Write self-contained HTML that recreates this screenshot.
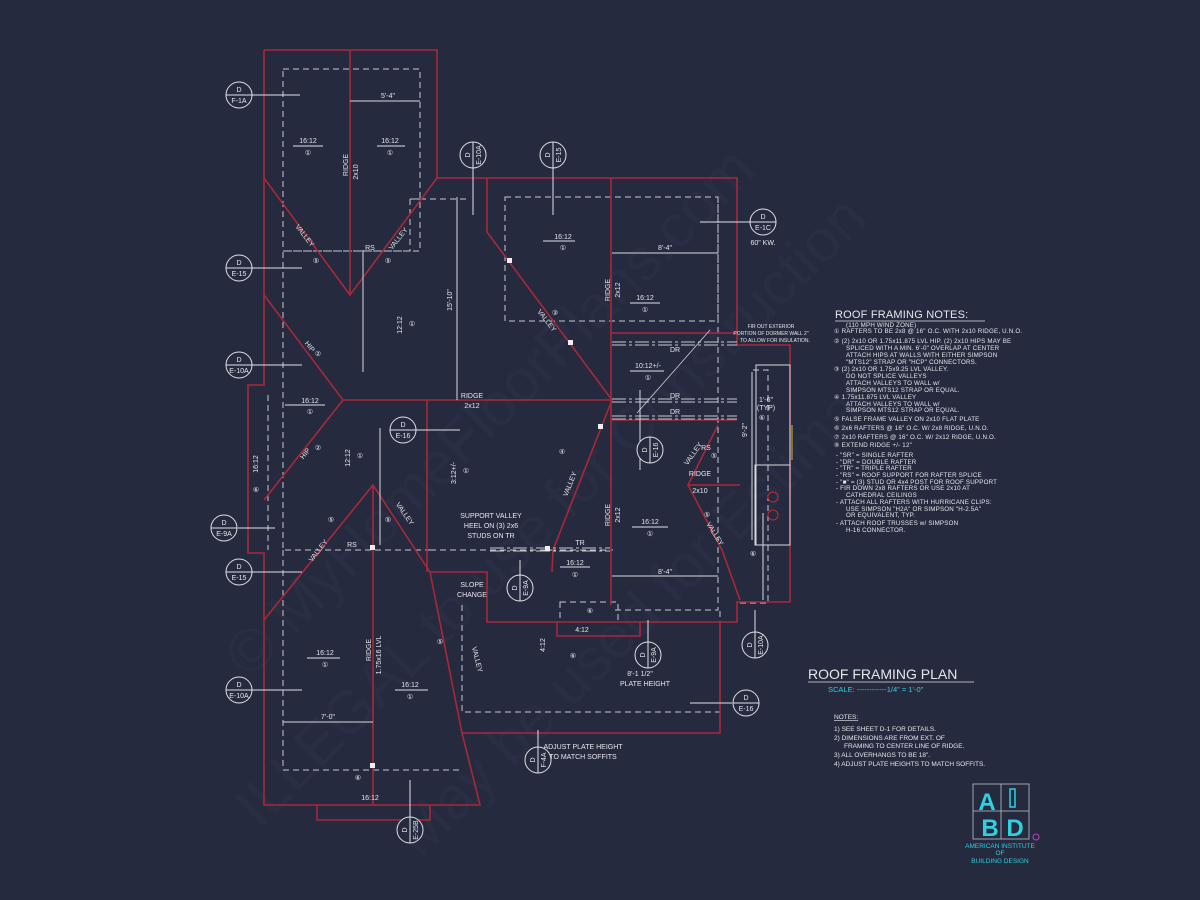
<!DOCTYPE html>
<html><head><meta charset="utf-8"><style>
html,body{margin:0;padding:0;background:#252a3e;}
svg{display:block;}
text{font-family:"Liberation Sans",sans-serif;fill:#e6e6ea;}
</style></head><body>
<svg width="1200" height="900" viewBox="0 0 1200 900" xmlns="http://www.w3.org/2000/svg">
<rect width="1200" height="900" fill="#252a3e"/>
<!-- watermark -->
<g opacity="0.35" font-family="Liberation Serif,serif">
<text x="250" y="680" font-size="60" transform="rotate(-45 250 680)" style="fill:#343850">© MyHomeFloorPlans.com</text>
<text x="260" y="830" font-size="60" transform="rotate(-45 260 830)" style="fill:#343850">ILLEGAL to use for Construction</text>
<text x="420" y="860" font-size="60" transform="rotate(-45 420 860)" style="fill:#343850">May be used for Estimating</text>
</g>
<!-- dashed walls -->
<g stroke="#c8c8d0" stroke-width="1" fill="none" stroke-dasharray="6,4">
<rect x="283" y="69" width="137" height="182"/>
<path d="M420 199 L410 199 L410 251 L283 251 L283 550 L430 550"/>
<path d="M410 199 L467 199"/>
<rect x="505" y="197" width="213" height="124"/>
<path d="M718 197 L718 610 L612 610"/>
<path d="M268 395 L268 550"/>
<path d="M430 550 L613 550"/>
<path d="M283 550 L283 770 L460 770"/>
<path d="M462 605 L462 712 L720 712 L720 610"/>
<path d="M753 370 L768 370 L768 603 L740 603"/>
<rect x="560" y="602" width="58" height="20"/>
</g>
<!-- red outline -->
<g stroke="#a8283b" stroke-width="1.6" fill="none">
<path d="M264 50 L437 50 L437 178 L737 178 L737 345 L790 345 L790 602 L737 602 L737 622 L487 622 L487 572 L430 572"/>
<path d="M264 50 L264 385 L248 385 L248 553 L264 553 L264 805 L480 805 L462 733 L720 733 L720 622"/>
<path d="M264 178 L350 295 L437 178"/>
<path d="M350 50 L350 295"/>
<path d="M264 295 L343 400 L612 400"/>
<path d="M343 400 L264 500"/>
<path d="M487 178 L487 232 L612 400"/>
<path d="M611 178 L611 605"/>
<path d="M612 400 L553 550 L552 572"/>
<path d="M427 400 L427 572"/>
<path d="M264 620 L373 485 L430 572 L462 733"/>
<path d="M373 485 L373 805"/>
<path d="M611 420 L737 420"/>
<path d="M611 333 L737 333"/>
<path d="M718 425 L688 485 L740 485"/>
<path d="M688 485 L722 550 L740 600"/>
<path d="M317 805 L317 820 L430 820 L430 805"/>
<path d="M557 622 L557 636 L640 636 L640 622"/>
</g>
<!-- DR double lines -->
<g stroke="#c8c8d0" stroke-width="1" stroke-dasharray="14,3,3,3">
<line x1="612" y1="342" x2="737" y2="342"/><line x1="612" y1="345" x2="737" y2="345"/>
<line x1="612" y1="399" x2="737" y2="399"/><line x1="612" y1="402" x2="737" y2="402"/>
<line x1="612" y1="416" x2="737" y2="416"/><line x1="612" y1="419" x2="737" y2="419"/>
<line x1="490" y1="548" x2="610" y2="548"/><line x1="490" y1="551" x2="610" y2="551"/>
</g>
<!-- white framing lines -->
<g stroke="#d8d8de" stroke-width="1" fill="none">
<line x1="457" y1="197" x2="457" y2="400"/>
<line x1="350" y1="101" x2="420" y2="101"/>
<line x1="363" y1="250" x2="363" y2="372"/>
<line x1="612" y1="253" x2="718" y2="253"/>
<line x1="612" y1="576" x2="718" y2="576"/>
<line x1="283" y1="722" x2="373" y2="722"/>
<line x1="380" y1="428" x2="380" y2="545"/>
<line x1="752" y1="372" x2="752" y2="540"/>
<line x1="763" y1="513" x2="763" y2="600"/>
<line x1="640" y1="390" x2="640" y2="470"/>
<path d="M756 365 H790 V545 H756 Z"/>
<rect x="755" y="465" width="35" height="80"/>
</g>
<circle cx="773" cy="497" r="5" stroke="#c0283b" fill="none"/>
<circle cx="773" cy="515" r="5" stroke="#c0283b" fill="none"/>
<line x1="792" y1="425" x2="792" y2="460" stroke="#c8c040"/>
<!-- support posts -->
<g fill="#f0f0f0">
<rect x="507" y="258" width="5" height="5"/><rect x="568" y="340" width="5" height="5"/>
<rect x="598" y="424" width="5" height="5"/><rect x="370" y="545" width="5" height="5"/>
<rect x="545" y="546" width="5" height="5"/><rect x="370" y="763" width="5" height="5"/>
</g>
<!-- callout circles -->
<g stroke="#e0e0e6" fill="none" stroke-width="1">
<line x1="252" y1="95" x2="300" y2="95"/><line x1="252" y1="268" x2="302" y2="268"/>
<line x1="252" y1="365" x2="302" y2="365"/><line x1="238" y1="528" x2="275" y2="528"/>
<line x1="252" y1="572" x2="302" y2="572"/><line x1="252" y1="690" x2="302" y2="690"/>
<line x1="473" y1="168" x2="473" y2="215"/><line x1="553" y1="168" x2="553" y2="215"/>
<line x1="750" y1="222" x2="700" y2="222"/><line x1="416" y1="430" x2="460" y2="430"/>
<line x1="520" y1="575" x2="520" y2="560"/><line x1="648" y1="642" x2="648" y2="620"/>
<line x1="755" y1="632" x2="755" y2="610"/><line x1="732" y1="703" x2="690" y2="703"/>
<line x1="538" y1="747" x2="538" y2="730"/><line x1="410" y1="817" x2="410" y2="780"/>
<line x1="637" y1="413" x2="710" y2="330" stroke-width="0.7"/>
</g>
<g font-size="7" text-anchor="middle">
<g transform="translate(239,95)"><circle r="13" stroke="#e0e0e6" fill="#252a3e"/><line x1="-13" x2="13" stroke="#e0e0e6"/><text y="-3">D</text><text y="8">F-1A</text></g>
<g transform="translate(239,268)"><circle r="13" stroke="#e0e0e6" fill="#252a3e"/><line x1="-13" x2="13" stroke="#e0e0e6"/><text y="-3">D</text><text y="8">E-15</text></g>
<g transform="translate(239,365)"><circle r="13" stroke="#e0e0e6" fill="#252a3e"/><line x1="-13" x2="13" stroke="#e0e0e6"/><text y="-3">D</text><text y="8">E-10A</text></g>
<g transform="translate(224,528)"><circle r="13" stroke="#e0e0e6" fill="#252a3e"/><line x1="-13" x2="13" stroke="#e0e0e6"/><text y="-3">D</text><text y="8">E-9A</text></g>
<g transform="translate(239,572)"><circle r="13" stroke="#e0e0e6" fill="#252a3e"/><line x1="-13" x2="13" stroke="#e0e0e6"/><text y="-3">D</text><text y="8">E-15</text></g>
<g transform="translate(239,690)"><circle r="13" stroke="#e0e0e6" fill="#252a3e"/><line x1="-13" x2="13" stroke="#e0e0e6"/><text y="-3">D</text><text y="8">E-10A</text></g>
<g transform="translate(763,222)"><circle r="13" stroke="#e0e0e6" fill="#252a3e"/><line x1="-13" x2="13" stroke="#e0e0e6"/><text y="-3">D</text><text y="8">E-1C</text><text y="23">60" KW.</text></g>
<g transform="translate(403,430)"><circle r="13" stroke="#e0e0e6" fill="#252a3e"/><line x1="-13" x2="13" stroke="#e0e0e6"/><text y="-3">D</text><text y="8">E-16</text></g>
<g transform="translate(746,703)"><circle r="13" stroke="#e0e0e6" fill="#252a3e"/><line x1="-13" x2="13" stroke="#e0e0e6"/><text y="-3">D</text><text y="8">E-16</text></g>
<g transform="translate(473,155) rotate(-90)"><circle r="13" stroke="#e0e0e6" fill="#252a3e"/><line x1="-13" x2="13" stroke="#e0e0e6"/><text y="-3">D</text><text y="8">E-10A</text></g>
<g transform="translate(553,155) rotate(-90)"><circle r="13" stroke="#e0e0e6" fill="#252a3e"/><line x1="-13" x2="13" stroke="#e0e0e6"/><text y="-3">D</text><text y="8">E-15</text></g>
<g transform="translate(650,450) rotate(-90)"><circle r="13" stroke="#e0e0e6" fill="#252a3e"/><line x1="-13" x2="13" stroke="#e0e0e6"/><text y="-3">D</text><text y="8">E-16</text></g>
<g transform="translate(520,588) rotate(-90)"><circle r="13" stroke="#e0e0e6" fill="#252a3e"/><line x1="-13" x2="13" stroke="#e0e0e6"/><text y="-3">D</text><text y="8">E-9A</text></g>
<g transform="translate(648,655) rotate(-90)"><circle r="13" stroke="#e0e0e6" fill="#252a3e"/><line x1="-13" x2="13" stroke="#e0e0e6"/><text y="-3">D</text><text y="8">E-9A</text></g>
<g transform="translate(755,645) rotate(-90)"><circle r="13" stroke="#e0e0e6" fill="#252a3e"/><line x1="-13" x2="13" stroke="#e0e0e6"/><text y="-3">D</text><text y="8">E-10A</text></g>
<g transform="translate(538,760) rotate(-90)"><circle r="13" stroke="#e0e0e6" fill="#252a3e"/><line x1="-13" x2="13" stroke="#e0e0e6"/><text y="-3">D</text><text y="8">F-4A</text></g>
<g transform="translate(410,830) rotate(-90)"><circle r="13" stroke="#e0e0e6" fill="#252a3e"/><line x1="-13" x2="13" stroke="#e0e0e6"/><text y="-3">D</text><text y="8">E-25B</text></g>
</g>
<!-- plan labels -->
<g font-size="7" text-anchor="middle">
<text x="388" y="98">5'-4"</text>
<text x="308" y="143">16:12</text><text x="308" y="155">①</text>
<text x="390" y="143">16:12</text><text x="390" y="155">①</text>
<text x="563" y="239">16:12</text><text x="563" y="250">①</text>
<text x="645" y="300">16:12</text><text x="645" y="312">①</text>
<text x="665" y="250">8'-4"</text>
<text x="370" y="250">RS</text>
<text x="316" y="263">⑤</text><text x="388" y="263">⑤</text>
<text x="412" y="326">①</text><text x="318" y="356">②</text>
<text x="555" y="315">③</text>
<text x="675" y="352">DR</text><text x="675" y="398">DR</text><text x="675" y="414">DR</text>
<text x="648" y="368">10:12+/-</text><text x="648" y="380">①</text>
<text x="472" y="398">RIDGE</text><text x="472" y="408">2x12</text>
<text x="310" y="403">16:12</text><text x="310" y="414">①</text>
<text x="318" y="450">②</text><text x="360" y="458">①</text>
<text x="466" y="473">①</text>
<text x="562" y="454">④</text>
<text x="714" y="458">⑤</text><text x="700" y="476">RIDGE</text><text x="700" y="493">2x10</text>
<text x="707" y="517">⑤</text>
<text x="650" y="524">16:12</text><text x="650" y="536">①</text>
<text x="491" y="518">SUPPORT VALLEY</text><text x="491" y="528">HEEL ON (3) 2x6</text><text x="491" y="538">STUDS ON TR</text>
<text x="580" y="545">TR</text>
<text x="575" y="565">16:12</text><text x="575" y="577">①</text>
<text x="665" y="574">8'-4"</text>
<text x="331" y="522">⑤</text><text x="388" y="522">⑤</text>
<text x="352" y="547">RS</text>
<text x="256" y="492">⑥</text>
<text x="472" y="587">SLOPE</text><text x="472" y="597">CHANGE</text>
<text x="440" y="644">⑤</text>
<text x="590" y="613">⑥</text><text x="582" y="632">4:12</text>
<text x="640" y="676">8'-1 1/2"</text><text x="645" y="686">PLATE HEIGHT</text>
<text x="583" y="749">ADJUST PLATE HEIGHT</text><text x="583" y="759">TO MATCH SOFFITS</text>
<text x="573" y="658">⑥</text>
<text x="325" y="655">16:12</text><text x="325" y="667">①</text>
<text x="410" y="687">16:12</text><text x="410" y="699">①</text>
<text x="328" y="719">7'-0"</text>
<text x="358" y="780">⑥</text><text x="370" y="800">16:12</text>
<text x="766" y="402">1'-6"</text><text x="766" y="410">(TYP)</text>
<text x="762" y="420">⑥</text><text x="753" y="556">⑥</text>
<text x="706" y="450">RS</text>
<text x="771" y="328" font-size="5">FIR OUT EXTERIOR</text><text x="771" y="335" font-size="5">PORTION OF DORMER WALL 2"</text><text x="775" y="342" font-size="5">TO ALLOW FOR INSULATION.</text>
</g>
<g font-size="7" text-anchor="middle">
<text transform="translate(348,165) rotate(-90)">RIDGE</text><text transform="translate(358,172) rotate(-90)">2x10</text>
<text transform="translate(610,290) rotate(-90)">RIDGE</text><text transform="translate(620,290) rotate(-90)">2x12</text>
<text transform="translate(610,515) rotate(-90)">RIDGE</text><text transform="translate(620,515) rotate(-90)">2x12</text>
<text transform="translate(371,650) rotate(-90)">RIDGE</text><text transform="translate(381,655) rotate(-90)">1.75x16 LVL</text>
<text transform="translate(452,300) rotate(-90)">15'-10"</text>
<text transform="translate(747,430) rotate(-90)">9'-2"</text>
<text transform="translate(402,325) rotate(-90)">12:12</text>
<text transform="translate(350,458) rotate(-90)">12:12</text>
<text transform="translate(456,473) rotate(-90)">3:12+/-</text>
<text transform="translate(545,645) rotate(-90)">4:12</text>
<text transform="translate(258,464) rotate(-90)">16:12</text>
<text transform="translate(303,237) rotate(52)">VALLEY</text>
<text transform="translate(400,240) rotate(-52)">VALLEY</text>
<text transform="translate(308,348) rotate(52)">HIP</text>
<text transform="translate(307,455) rotate(-52)">HIP</text>
<text transform="translate(545,322) rotate(52)">VALLEY</text>
<text transform="translate(572,485) rotate(-68)">VALLEY</text>
<text transform="translate(403,515) rotate(55)">VALLEY</text>
<text transform="translate(320,552) rotate(-52)">VALLEY</text>
<text transform="translate(475,660) rotate(76)">VALLEY</text>
<text transform="translate(695,455) rotate(-55)">VALLEY</text>
<text transform="translate(713,535) rotate(58)">VALLEY</text>
</g>
<!-- arrows -->
<g stroke="#e0e0e6" stroke-width="1">
<line x1="293" y1="146" x2="323" y2="146"/><line x1="377" y1="146" x2="405" y2="146"/>
<line x1="543" y1="241" x2="575" y2="241"/><line x1="630" y1="303" x2="660" y2="303"/>
<line x1="630" y1="371" x2="664" y2="371"/><line x1="285" y1="405" x2="325" y2="405"/>
<line x1="632" y1="527" x2="668" y2="527"/><line x1="560" y1="567" x2="590" y2="567"/>
<line x1="307" y1="658" x2="340" y2="658"/><line x1="395" y1="690" x2="428" y2="690"/>
</g>
<!-- notes -->
<g font-size="6.2" style="letter-spacing:0.2px">
<text x="835" y="318" font-size="11">ROOF FRAMING NOTES:</text>
<line x1="835" y1="321" x2="985" y2="321" stroke="#e0e0e6" stroke-width="0.7"/>
<text x="846" y="327">(110 MPH WIND ZONE)</text>
<text x="834" y="333">①  RAFTERS TO BE 2x8 @ 16" O.C. WITH 2x10 RIDGE, U.N.O.</text>
<text x="834" y="343">②  (2) 2x10 OR 1.75x11.875 LVL HIP. (2) 2x10 HIPS MAY BE</text>
<text x="846" y="350">SPLICED WITH A MIN. 6'-0" OVERLAP AT CENTER</text>
<text x="846" y="357">ATTACH HIPS AT WALLS WITH EITHER SIMPSON</text>
<text x="846" y="364">"MTS12" STRAP OR "HCP" CONNECTORS.</text>
<text x="834" y="371">③  (2) 2x10 OR 1.75x9.25 LVL VALLEY.</text>
<text x="846" y="378">DO NOT SPLICE VALLEYS</text>
<text x="846" y="385">ATTACH VALLEYS TO WALL w/</text>
<text x="846" y="392">SIMPSON MTS12 STRAP OR EQUAL.</text>
<text x="834" y="399">④  1.75x11.875 LVL VALLEY</text>
<text x="846" y="406">ATTACH VALLEYS TO WALL w/</text>
<text x="846" y="412">SIMPSON MTS12 STRAP OR EQUAL.</text>
<text x="834" y="421">⑤  FALSE FRAME VALLEY ON 2x10 FLAT PLATE</text>
<text x="834" y="430">⑥  2x6 RAFTERS @ 16" O.C. W/ 2x8 RIDGE, U.N.O.</text>
<text x="834" y="439">⑦  2x10 RAFTERS @ 16" O.C. W/ 2x12 RIDGE, U.N.O.</text>
<text x="834" y="447">⑧  EXTEND RIDGE +/- 12"</text>
<text x="836" y="457">-   "SR" = SINGLE RAFTER</text>
<text x="836" y="464">-   "DR" = DOUBLE RAFTER</text>
<text x="836" y="470">-   "TR" = TRIPLE RAFTER</text>
<text x="836" y="477">-   "RS" = ROOF SUPPORT FOR RAFTER SPLICE</text>
<text x="836" y="484">-   "■"  = (3) STUD OR 4x4 POST FOR ROOF SUPPORT</text>
<text x="836" y="490">-   FIR DOWN 2x8 RAFTERS OR USE 2x10 AT</text>
<text x="846" y="497">CATHEDRAL CEILINGS</text>
<text x="836" y="504">-   ATTACH ALL RAFTERS WITH HURRICANE CLIPS:</text>
<text x="846" y="511">USE SIMPSON "H2A" OR SIMPSON "H-2.5A"</text>
<text x="846" y="517">OR EQUIVALENT, TYP.</text>
<text x="836" y="525">-   ATTACH ROOF TRUSSES w/ SIMPSON</text>
<text x="846" y="532">H-16 CONNECTOR.</text>
</g>
<text x="808" y="679" font-size="14">ROOF FRAMING PLAN</text>
<line x1="808" y1="682" x2="974" y2="682" stroke="#e0e0e6" stroke-width="0.8"/>
<text x="828" y="692" font-size="7.5" style="fill:#2fd0e0">SCALE: ------------1/4" = 1'-0"</text>
<g font-size="6.5">
<text x="834" y="719" style="text-decoration:underline">NOTES:</text>
<text x="834" y="731">1)  SEE SHEET D-1 FOR DETAILS.</text>
<text x="834" y="740">2)  DIMENSIONS ARE FROM EXT. OF</text>
<text x="844" y="748">FRAMING TO CENTER LINE OF RIDGE.</text>
<text x="834" y="757">3)  ALL OVERHANGS TO BE 18".</text>
<text x="834" y="766">4)  ADJUST PLATE HEIGHTS TO MATCH SOFFITS.</text>
</g>
<!-- logo -->
<g>
<rect x="973" y="784" width="56" height="55" fill="none" stroke="#c0c4cc" stroke-width="0.8"/>
<line x1="1001" y1="784" x2="1001" y2="839" stroke="#c0c4cc" stroke-width="0.8"/>
<line x1="973" y1="811" x2="1029" y2="811" stroke="#c0c4cc" stroke-width="0.8"/>
<text x="987" y="810" font-size="24" font-weight="bold" text-anchor="middle" style="fill:#2fd0e0">A</text>
<rect x="1010" y="789" width="5" height="18" fill="none" stroke="#2fd0e0" stroke-width="1.5"/>
<text x="990" y="836" font-size="24" font-weight="bold" text-anchor="middle" style="fill:#2fd0e0">B</text>
<text x="1015" y="836" font-size="24" font-weight="bold" text-anchor="middle" style="fill:#2fd0e0">D</text>
<circle cx="1036" cy="837" r="3" fill="none" stroke="#c040c0"/>
<text x="1000" y="848" font-size="6.5" text-anchor="middle" style="fill:#2fd0e0">AMERICAN INSTITUTE</text>
<text x="1000" y="855" font-size="6.5" text-anchor="middle" style="fill:#2fd0e0">OF</text>
<text x="1000" y="863" font-size="6.5" text-anchor="middle" style="fill:#2fd0e0">BUILDING DESIGN</text>
</g>
</svg>
</body></html>
